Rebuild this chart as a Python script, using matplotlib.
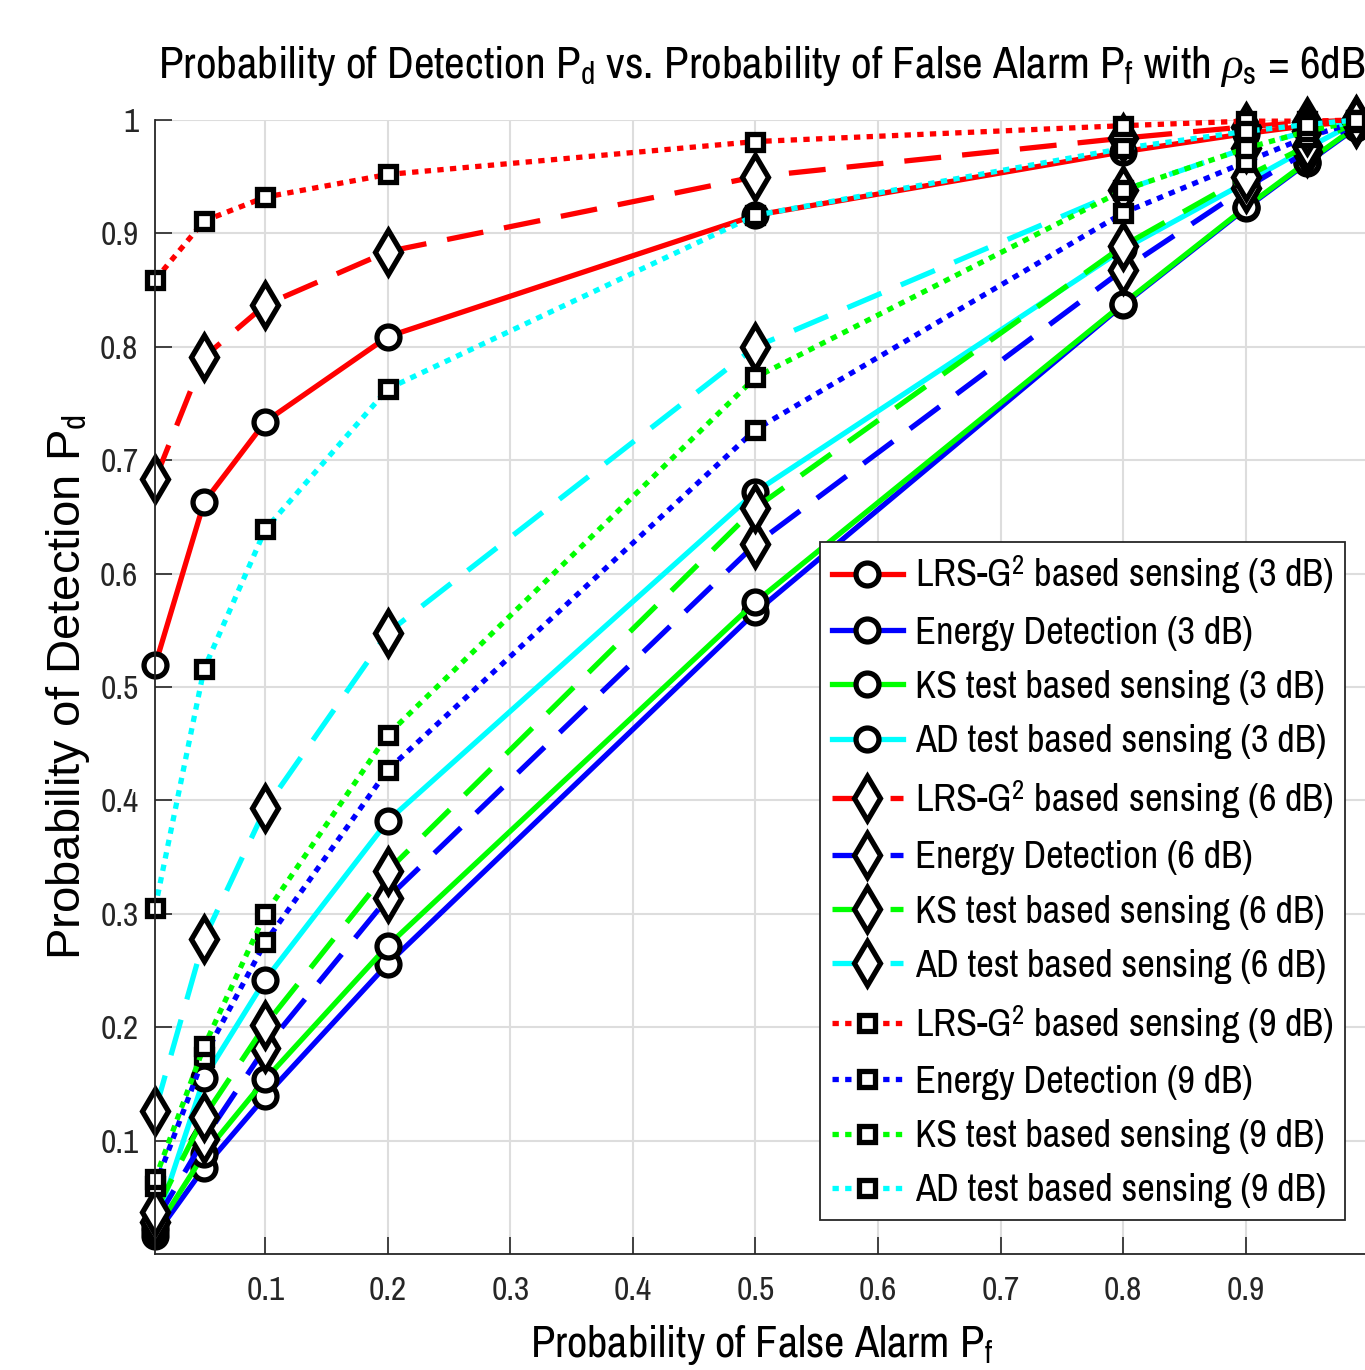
import matplotlib
matplotlib.use("Agg")
import matplotlib.pyplot as plt
from matplotlib import font_manager

# MATLAB-like narrow Helvetica if one exists here, else plain Liberation Sans
narrow = sorted({f.name for f in font_manager.fontManager.ttflist
                 if 'Narrow' in f.name or 'Condensed' in f.name})
MAIN = narrow[0] if narrow else 'Liberation Sans'
NARROW_OK = bool(narrow)
plt.rcParams['font.family'] = [MAIN, 'DejaVu Sans']
plt.rcParams['mathtext.fontset'] = 'custom'
plt.rcParams['mathtext.rm'] = MAIN
plt.rcParams['mathtext.it'] = 'Liberation Serif:italic'

# false alarm probabilities
pf = [0.01, 0.05, 0.1, 0.2, 0.5, 0.8, 0.9, 0.95, 0.99]

# 3 dB
lrs_3 = [0.519, 0.663, 0.734, 0.809, 0.916, 0.972, 0.988, 0.995, 0.999]
ed_3 = [0.016, 0.076, 0.139, 0.256, 0.566, 0.837, 0.922, 0.962, 0.993]
ks_3 = [0.020, 0.088, 0.154, 0.272, 0.575, 0.838, 0.923, 0.963, 0.994]
ad_3 = [0.024, 0.155, 0.242, 0.382, 0.672, 0.886, 0.945, 0.975, 0.998]
# 6 dB
lrs_6 = [0.683, 0.791, 0.837, 0.884, 0.950, 0.984, 0.994, 0.998, 1.0]
ed_6 = [0.028, 0.101, 0.182, 0.314, 0.626, 0.868, 0.940, 0.972, 0.997]
ks_6 = [0.037, 0.121, 0.202, 0.338, 0.658, 0.889, 0.950, 0.977, 0.998]
ad_6 = [0.126, 0.278, 0.393, 0.548, 0.800, 0.938, 0.975, 0.990, 0.999]
# 9 dB
lrs_9 = [0.859, 0.911, 0.932, 0.952, 0.981, 0.995, 0.999, 0.999, 1.0]
ed_9 = [0.060, 0.174, 0.275, 0.427, 0.727, 0.918, 0.963, 0.985, 0.998]
ks_9 = [0.066, 0.183, 0.300, 0.458, 0.773, 0.938, 0.975, 0.990, 0.999]
ad_9 = [0.305, 0.516, 0.639, 0.763, 0.916, 0.975, 0.990, 0.996, 1.0]

names = ['LRS-G$^2$ based sensing', 'Energy Detection',
         'KS test based sensing', 'AD test based sensing']
colors = ['#ff0000', '#0000ff', '#00ff00', '#00ffff']
groups = [
    ('3 dB', [lrs_3, ed_3, ks_3, ad_3], '-', 'o', 16.5),
    ('6 dB', [lrs_6, ed_6, ks_6, ad_6], (0, (7, 4)), 'd', 22),
    ('9 dB', [lrs_9, ed_9, ks_9, ad_9], (0, (1.2, 1.2)), 's', 12),
]

# sizes depend on whether a narrow face was found
if NARROW_OK:
    fs_title, fs_leg, fs_tick, fs_xl = 32.5, 27.7, 24, 32
else:
    fs_title, fs_leg, fs_tick, fs_xl = 26.5, 22.5, 20, 26

fig = plt.figure(figsize=(13.65, 13.7), dpi=100)
ax = fig.add_axes([0.1136, 0.0847, 0.8887, 0.8277])

for snr, series, ls, mk, ms in groups:
    for name, col, vals in zip(names, colors, series):
        ax.plot(pf, vals, color=col, linestyle=ls, linewidth=3.8,
                marker=mk, markersize=ms, markeredgewidth=3.8,
                markeredgecolor='black', markerfacecolor='white',
                label=f'{name} ({snr})', clip_on=False)

ax.set_xlim(0.01, 1.0)
ax.set_ylim(0, 1)
ax.set_xticks([0.1, 0.2, 0.3, 0.4, 0.5, 0.6, 0.7, 0.8, 0.9])
ax.set_yticks([0.1, 0.2, 0.3, 0.4, 0.5, 0.6, 0.7, 0.8, 0.9, 1.0])
ax.set_xticklabels(['0.1', '0.2', '0.3', '0.4', '0.5', '0.6', '0.7', '0.8', '0.9'])
ax.set_yticklabels(['0.1', '0.2', '0.3', '0.4', '0.5', '0.6', '0.7', '0.8', '0.9', '1'])
ax.tick_params(direction='in', length=12, width=1.2, labelsize=fs_tick,
               colors='#262626', pad=12)
ax.tick_params(axis='x', pad=16)
ax.grid(True, color='#dddddd', linewidth=1.5)
ax.set_axisbelow(True)
ax.spines['top'].set_visible(False)
ax.spines['right'].set_visible(False)
for s in ('left', 'bottom'):
    ax.spines[s].set_linewidth(1.3)
    ax.spines[s].set_color('#262626')

ax.set_xlabel('Probability of False Alarm P$_{\\rm f}$', fontsize=fs_xl, labelpad=12)
ax.set_ylabel('Probability of Detection P$_{\\rm d}$', fontsize=34,
              family=['Liberation Sans', 'DejaVu Sans'], labelpad=6)
ax.set_title('Probability of Detection P$_{\\rm d}$ vs. Probability of False Alarm '
             'P$_{\\rm f}$ with $\\rho_{\\rm s}$ = 6dB', fontsize=fs_title,
             pad=30, x=0.5)

leg = ax.legend(loc='lower right', bbox_to_anchor=(0.981, 0.03), fontsize=fs_leg,
                handlelength=1.85, handletextpad=0.3, labelspacing=0.5,
                borderpad=0.3, borderaxespad=0, fancybox=False, framealpha=1)
leg.get_frame().set_edgecolor('#262626')
leg.get_frame().set_linewidth(1.3)

fig.savefig('out.png', dpi=100)
